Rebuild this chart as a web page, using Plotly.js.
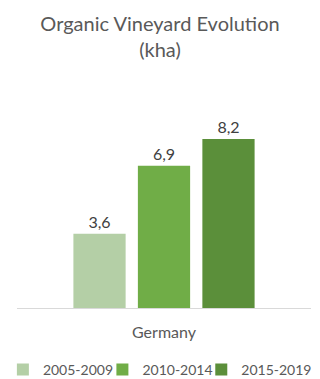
<!DOCTYPE html>
<html><head><meta charset="utf-8">
<script src="https://cdn.plot.ly/plotly-3.0.1.min.js"></script>
<style>html,body{margin:0;padding:0;background:#fff}#chart{width:320px;height:379px}</style>
</head><body><div id="chart"></div>
<script>
const categories = ["Germany"];
const seriesNames = ["2005-2009", "2010-2014", "2015-2019"];
const seriesValues = [[3.6], [6.9], [8.2]];
const seriesColors = ["#B4CFA6", "#70AD47", "#5B8F3A"];
const legendIds = ["legend", "legend2", "legend3"];
const legendX = [0.009, 0.32, 0.629];

const traces = seriesNames.map((name, i) => ({
  type: "bar",
  name: name,
  x: categories,
  y: seriesValues[i],
  legend: legendIds[i],
  marker: {color: seriesColors[i]},
  texttemplate: "%{y:.1f}",
  textposition: "outside",
  cliponaxis: false,
  textfont: {family: "Lato, 'Open Sans', sans-serif", size: 16, color: "#404040"},
  hoverinfo: "skip"
}));

const layout = {
  width: 320, height: 379,
  margin: {l: 17, r: 9, t: 102, b: 71, autoexpand: false},
  separators: ",.",
  font: {family: "Lato, 'Open Sans', sans-serif", color: "#595959"},
  title: {
    text: "Organic Vineyard Evolution<br>(kha)",
    x: 0.5, xanchor: "center", xref: "container",
    y: 0.917, yanchor: "top", yref: "container",
    font: {size: 20, color: "#595959"}
  },
  barmode: "group",
  bargap: 0.342,
  bargroupgap: 0.19,
  xaxis: {
    showline: true, linecolor: "#D9D9D9", linewidth: 1,
    ticks: "", tickfont: {size: 16, color: "#595959"},
    ticklabelstandoff: 10,
    fixedrange: true
  },
  yaxis: {
    range: [0, 10], visible: false, showgrid: false, zeroline: false, fixedrange: true
  },
  showlegend: true,
  plot_bgcolor: "#fff", paper_bgcolor: "#fff"
};

legendIds.forEach((id, i) => {
  layout[id] = {
    orientation: "h", x: legendX[i], xanchor: "left", xref: "container",
    y: 0.024, yanchor: "middle", yref: "container",
    font: {size: 14, color: "#595959"},
    itemwidth: 30, bgcolor: "rgba(0,0,0,0)"
  };
});

Plotly.newPlot("chart", traces, layout, {displayModeBar: false, staticPlot: true});
</script>
</body></html>
